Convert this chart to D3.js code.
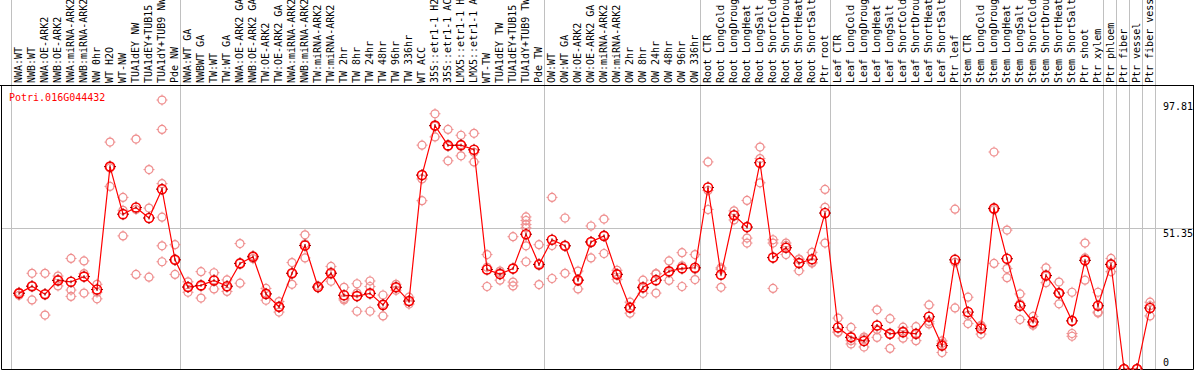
<!DOCTYPE html>
<html>
<head>
<meta charset="utf-8">
<script src="https://cdn.jsdelivr.net/npm/d3@7.9.0/dist/d3.min.js"></script>
<style>
  body { margin: 0; background: #fff; }
  svg { display: block; }
  text { font-family: "DejaVu Sans Mono", monospace; font-size: 10px; }
</style>
</head>
<body>
<div id="chart"></div>
<script>
const geneId = "Potri.016G044432";

const samples = [
  "NWA:WT", "NWB:WT", "NWA:OE-ARK2", "NWB:OE-ARK2", "NWA:miRNA-ARK2", "NWB:miRNA-ARK2",
  "NW 0hr", "WT H2O", "WT-NW", "TUA1dEY NW", "TUA1dEY+TUB15", "TUA1dY+TUB9 NW", "Pde NW",
  "NWA:WT GA", "NWBWT GA", "TW:WT", "TW:WT GA", "NWA:OE-ARK2 GA", "NWB:OE-ARK2 GA",
  "TW:OE-ARK2", "TW:OE-ARK2 GA", "NWA:miRNA-ARK2", "NWB:miRNA-ARK2", "TW:miRNA-ARK2",
  "TW:miRNA-ARK2", "TW 2hr", "TW 8hr", "TW 24hr", "TW 48hr", "TW 96hr", "TW 336hr",
  "WT ACC", "35S::etr1-1 H2", "35S::etr1-1 AC", "LMX5::etr1-1 H", "LMX5::etr1-1 A",
  "WT-TW", "TUA1dEY TW", "TUA1dEY+TUB15", "TUA1dY+TUB9 TW", "Pde TW",
  "OW:WT", "OW:WT GA", "OW:OE-ARK2", "OW:OE-ARK2 GA", "OW:miRNA-ARK2", "OW:miRNA-ARK2",
  "OW 2hr", "OW 8hr", "OW 24hr", "OW 48hr", "OW 96hr", "OW 336hr",
  "Root CTR", "Root LongCold", "Root LongDroug", "Root LongHeat", "Root LongSalt",
  "Root ShortCold", "Root ShortDrou", "Root ShortHeat", "Root ShortSalt", "Ptr root",
  "Leaf CTR", "Leaf LongCold", "Leaf LongDroug", "Leaf LongHeat", "Leaf LongSalt",
  "Leaf ShortCold", "Leaf ShortDrou", "Leaf ShortHeat", "Leaf ShortSalt", "Ptr leaf",
  "Stem CTR", "Stem LongCold", "Stem LongDroug", "Stem LongHeat", "Stem LongSalt",
  "Stem ShortCold", "Stem ShortDrou", "Stem ShortHeat", "Stem ShortSalt", "Ptr shoot",
  "Ptr xylem", "Ptr phloem", "Ptr fiber", "Ptr vessel", "Ptr fiber vess"
];

const means = [
  27.5, 30.1, 27.2, 32.2, 31.7, 33.6, 28.9, 73.6, 56.3, 58.7, 54.9, 65.4, 39.7,
  29.8, 30.4, 32.2, 30.1, 38.4, 40.8, 27.3, 22.6, 34.8, 44.9, 29.8, 34.8, 26.8, 26.5,
  27.5, 23.3, 29.7, 24.7, 70.5, 88.5, 81.3, 81.4, 79.7, 36.2, 34.5, 36.5, 49.0, 38.0,
  47.0, 44.8, 32.3, 46.2, 48.4, 34.4, 22.3, 29.7, 32.3, 35.5, 36.6, 36.8,
  66.0, 34.3, 55.9, 51.6, 75.0, 40.5, 44.1, 38.5, 39.9, 56.7,
  15.1, 11.5, 10.2, 15.8, 12.8, 13.4, 12.8, 19.0, 8.5, 39.7,
  20.7, 14.7, 58.4, 40.1, 23.0, 17.1, 34.0, 27.6, 17.5, 39.5, 23.0,
  38.0, 0, 0, 22.2
];

const replicates = [
  [27.8, 26.8, 27.9], [34.8, 30.1, 25.1], [34.8, 27.2, 19.6], [33.8, 32.6, 30.2],
  [40.2, 28.7, 26.4], [39.3, 34.7, 27.6], [30.8, 27.9, 25.5], [82.5, 73.1, 66.4],
  [62.4, 57.7, 48.4], [83.6, 58.0, 34.4], [72.5, 58.5, 33.4],
  [97.8, 87.1, 67.4, 55.2, 44.8, 39.0], [45.2, 39.7, 34.4],
  [31.7, 29.8, 27.9], [35.4, 30.2, 25.8], [35.0, 32.4, 29.1], [32.4, 29.8, 28.2],
  [45.6, 38.4, 31.2], [40.9, 41.2, 40.1], [29.3, 27.5, 25.0], [24.5, 22.6, 20.7],
  [38.7, 34.8, 30.8], [48.8, 45.5, 40.4], [30.2, 29.5], [37.3, 35.2, 31.9],
  [29.7, 25.6, 25.1], [31.0, 27.6, 21.0], [32.0, 30.0, 21.0], [26.9, 23.6, 19.3],
  [30.8, 29.7, 28.6], [26.1, 24.5, 23.6], [81.4, 69.1, 61.2], [92.8, 88.3, 84.4],
  [87.1, 81.0, 75.7], [85.0, 81.6, 77.5], [85.7, 78.8, 75.3], [41.6, 37.0, 30.0],
  [35.6, 35.0, 32.3], [48.1, 31.6, 30.2], [55.3, 54.0, 52.5, 51.3, 44.8, 39.0],
  [45.2, 38.2, 30.7],
  [62.4, 44.9, 32.9], [54.9, 44.8, 34.8], [35.6, 32.3, 29.1], [52.0, 46.2, 40.4],
  [54.5, 48.6, 42.0], [35.9, 34.6, 32.6], [24.3, 22.3, 20.3], [32.3, 29.4, 27.5],
  [34.7, 34.6, 27.6], [39.3, 35.0, 32.2], [42.3, 37.5, 30.0], [41.6, 36.3, 32.5],
  [75.3, 64.9, 58.0], [36.8, 36.3, 29.7], [57.5, 56.0, 54.2], [61.3, 47.6, 45.8],
  [80.7, 76.5, 67.7], [47.0, 45.8, 29.3], [45.8, 44.9, 41.6], [39.8, 40.0, 35.7],
  [42.4, 38.8, 38.5], [65.3, 58.8, 45.8],
  [18.5, 13.5, 13.3], [15.1, 10.3, 9.1], [11.6, 11.0, 8.0], [21.5, 14.4, 11.5],
  [18.3, 12.6, 7.5], [15.2, 13.8, 11.2], [15.4, 12.7, 10.3], [23.3, 17.3, 16.4],
  [9.3, 10.2, 6.0], [58.1, 38.8, 22.2],
  [26.1, 19.5, 16.5], [15.9, 15.5, 12.7], [78.9, 57.9, 38.4], [50.5, 36.5, 33.2],
  [27.3, 23.7, 18.0], [19.1, 16.3, 15.9], [36.8, 33.8, 31.4], [31.6, 27.5, 23.7],
  [27.9, 12.9, 11.9], [45.8, 40.4, 32.3], [27.9, 20.4, 20.7],
  [40.2, 38.4, 35.4], [0, 0, 0], [0, 0, 0], [24.3, 23.0, 19.3]
];

// index where each sample group starts (last entry closes the final group)
const groupStarts = [0, 13, 41, 53, 63, 73, 84, 85, 86, 87, 88];
const yTicks = [97.81, 51.35, 0];

const width = 1194, height = 370;
const headerBottom = 85.5, plotBottom = 369.5, plotLeft = 1.5, plotRight = 1193.5;

const svg = d3.select("#chart").append("svg")
  .attr("width", width)
  .attr("height", height);

svg.append("rect").attr("width", width).attr("height", height).attr("fill", "#fff");

const x = d3.scaleBand()
  .domain(d3.range(samples.length))
  .range([11, 1155])
  .padding(0);
const cx = i => x(i) + 8;

const y = d3.scaleLinear()
  .domain([0, 97.81])
  .range([369, 100]);

const grid = svg.append("g").attr("stroke", "#c0c0c0").attr("stroke-width", 1);

// group separators run through header and plot
grid.selectAll("line.sep")
  .data(groupStarts)
  .enter().append("line")
  .attr("class", "sep")
  .attr("x1", d => Math.round(d < samples.length ? x(d) : x.range()[1]) + 0.5)
  .attr("x2", d => Math.round(d < samples.length ? x(d) : x.range()[1]) + 0.5)
  .attr("y1", 0)
  .attr("y2", plotBottom);

grid.append("line")
  .attr("x1", plotLeft).attr("x2", plotRight)
  .attr("y1", Math.round(y(51.35)) + 0.5).attr("y2", Math.round(y(51.35)) + 0.5);

// sample labels
svg.append("g").selectAll("text")
  .data(samples)
  .enter().append("text")
  .attr("transform", (d, i) => `translate(${cx(i) + 3},83) rotate(-90)`)
  .attr("fill", "#000")
  .text(d => d);

// frame
svg.append("path")
  .attr("d", `M0,${headerBottom}H${width} M${plotLeft},${headerBottom}V${plotBottom}H${plotRight}V${headerBottom}`)
  .attr("fill", "none")
  .attr("stroke", "#000")
  .attr("stroke-width", 1);

svg.append("clipPath").attr("id", "plotclip")
  .append("rect")
  .attr("x", plotLeft).attr("y", headerBottom)
  .attr("width", plotRight - plotLeft).attr("height", plotBottom - headerBottom);

const plot = svg.append("g").attr("clip-path", "url(#plotclip)");

const ticks = r => `M0,${-r - 1.5}V${-r + 0.5} M0,${r - 0.5}V${r + 1.5} M${-r - 1.5},0H${-r + 0.5} M${r - 0.5},0H${r + 1.5}`;

// replicate measurements
const reps = [];
replicates.forEach((vals, i) => vals.forEach(v => reps.push({ i, v })));

const repG = plot.selectAll("g.rep")
  .data(reps)
  .enter().append("g")
  .attr("class", "rep")
  .attr("transform", d => `translate(${cx(d.i)},${y(d.v)})`);
repG.append("circle")
  .attr("r", 4)
  .attr("fill", "none")
  .attr("stroke", "#ef8f8f")
  .attr("stroke-width", 1.2);
repG.append("path")
  .attr("d", ticks(4))
  .attr("stroke", "#ef8f8f")
  .attr("stroke-width", 1);

// mean line
plot.append("path")
  .datum(means)
  .attr("d", d3.line().x((d, i) => cx(i)).y(d => y(d)))
  .attr("fill", "none")
  .attr("stroke", "#ff0000")
  .attr("stroke-width", 1.2);

const meanG = plot.selectAll("g.mean")
  .data(means)
  .enter().append("g")
  .attr("class", "mean")
  .attr("transform", (d, i) => `translate(${cx(i)},${y(d)})`);
meanG.append("circle")
  .attr("r", 4.5)
  .attr("fill", "none")
  .attr("stroke", "#ff0000")
  .attr("stroke-width", 1.6);
meanG.append("path")
  .attr("d", ticks(4.5) + " M0,-1.5V1.5")
  .attr("stroke", "#990000")
  .attr("stroke-width", 1);

// title
svg.append("text")
  .attr("x", 9)
  .attr("y", 100.5)
  .attr("fill", "#ff0000")
  .text(geneId);

// y labels
svg.append("g").selectAll("text")
  .data(yTicks)
  .enter().append("text")
  .attr("x", 1163)
  .attr("y", d => Math.min(y(d) + 9.5, 366))
  .attr("fill", "#000")
  .text(d => d);
</script>
</body>
</html>
